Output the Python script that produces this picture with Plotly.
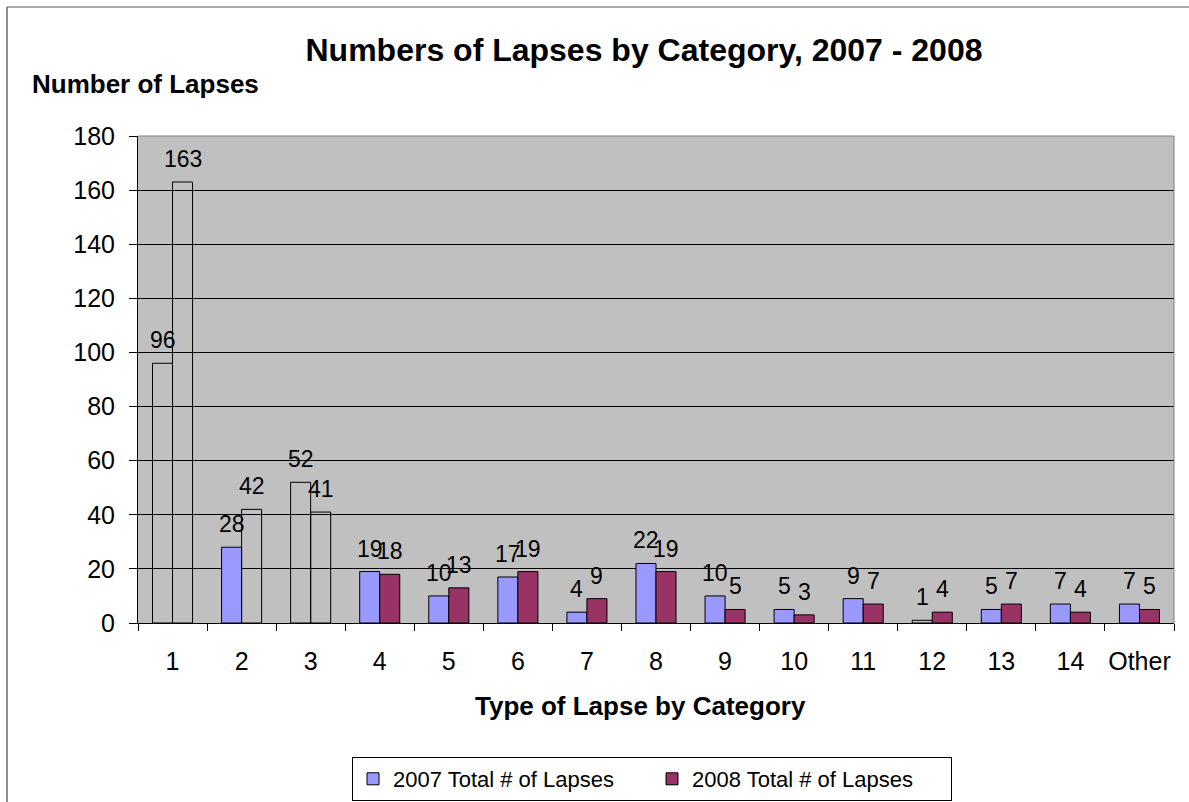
import plotly.graph_objects as go

# Lapse counts per category
categories = ["1", "2", "3", "4", "5", "6", "7", "8", "9", "10", "11", "12", "13", "14", "Other"]
lapses_2007 = [96, 28, 52, 19, 10, 17, 4, 22, 10, 5, 9, 1, 5, 7, 7]
lapses_2008 = [163, 42, 41, 18, 13, 19, 9, 19, 5, 3, 7, 4, 7, 4, 5]
# bars drawn as outline only (no fill)
hollow_2007 = [True, False, True, False, False, False, False, False, False, False, False, True, False, False, False]
hollow_2008 = [True, True, True, False, False, False, False, False, False, False, False, False, False, False, False]

name_2007 = "2007 Total # of Lapses"
name_2008 = "2008 Total # of Lapses"
color_2007 = "#9999FF"
color_2008 = "#993366"
FONT = "Liberation Sans, Arial, sans-serif"

W, H = 1189, 802
L, R, T, B = 138, 15, 136, 179
pw, ph = W - L - R, H - T - B


def px_x(p):
    return (p - L) / pw


def px_y(p):
    return (H - B - p) / ph


def fills(color, hollow):
    return ["rgba(0,0,0,0)" if h else color for h in hollow]


fig = go.Figure()
fig.add_trace(go.Bar(
    x=categories, y=lapses_2007, name=name_2007, offsetgroup="a", showlegend=False,
    marker=dict(color=fills(color_2007, hollow_2007), line=dict(color="#000000", width=1)),
    hoverinfo="x+y",
))
fig.add_trace(go.Bar(
    x=categories, y=lapses_2008, name=name_2008, offsetgroup="b", showlegend=False,
    marker=dict(color=fills(color_2008, hollow_2008), line=dict(color="#000000", width=1)),
    hoverinfo="x+y",
))
# legend entries with the solid series colours
fig.add_trace(go.Bar(x=[None], y=[None], name=name_2007, offsetgroup="a",
                     marker=dict(color=color_2007, line=dict(color="#000000", width=1))))
fig.add_trace(go.Bar(x=[None], y=[None], name=name_2008, offsetgroup="b",
                     marker=dict(color=color_2008, line=dict(color="#000000", width=1))))

bargap = 0.42
half_bar = pw / len(categories) * (1 - bargap) / 4

annotations = []
for series, shift in ((lapses_2007, -half_bar), (lapses_2008, half_bar)):
    for i, v in enumerate(series):
        # category axis: numeric x is the category index
        annotations.append(dict(
            x=i, y=v, xref="x", yref="y", text=str(v), showarrow=False,
            xanchor="center", yanchor="bottom", xshift=shift, yshift=8,
            font=dict(family=FONT, size=23, color="#000000"),
        ))

annotations.append(dict(
    x=px_x(30), y=px_y(84), xref="paper", yref="paper", text="<b>Number of Lapses</b>",
    showarrow=False, xanchor="left", yanchor="middle",
    font=dict(family=FONT, size=26, color="#000000"),
))
annotations.append(dict(
    x=px_x(640.5), y=px_y(706), xref="paper", yref="paper", text="<b>Type of Lapse by Category</b>",
    showarrow=False, xanchor="center", yanchor="middle",
    font=dict(family=FONT, size=26, color="#000000"),
))

shapes = [
    # plot area frame, top and right sides
    dict(type="line", xref="paper", yref="paper", x0=0, x1=1, y0=1, y1=1,
         line=dict(color="#808080", width=1)),
    dict(type="line", xref="paper", yref="paper", x0=1, x1=1, y0=0, y1=1,
         line=dict(color="#808080", width=1)),
    # chart frame
    dict(type="line", xref="paper", yref="paper", x0=px_x(7), x1=px_x(7), y0=px_y(7), y1=px_y(H + 5),
         line=dict(color="#222222", width=1)),
    dict(type="line", xref="paper", yref="paper", x0=px_x(7), x1=px_x(W + 5), y0=px_y(7), y1=px_y(7),
         line=dict(color="#555555", width=1)),
]

fig.update_layout(
    width=W, height=H,
    margin=dict(l=L, r=R, t=T, b=B, pad=0, autoexpand=False),
    paper_bgcolor="#FFFFFF",
    plot_bgcolor="#C0C0C0",
    barmode="group", bargap=bargap, bargroupgap=0,
    font=dict(family=FONT, color="#000000"),
    title=dict(text="<b>Numbers of Lapses by Category, 2007 - 2008</b>",
               x=px_x(644), xref="paper", xanchor="center",
               y=1 - 50 / H, yref="container", yanchor="middle",
               font=dict(family=FONT, size=32, color="#000000")),
    xaxis=dict(
        type="category", categoryorder="array", categoryarray=categories,
        showgrid=False, showline=True, linecolor="#000000", linewidth=1,
        ticks="outside", tickson="boundaries", ticklen=7, tickcolor="#000000",
        tickfont=dict(family=FONT, size=25, color="#000000"),
        tickangle=0, ticklabelstandoff=16, automargin=False,
        fixedrange=True,
    ),
    yaxis=dict(
        range=[0, 180], dtick=20, tick0=0,
        showgrid=True, gridcolor="#000000", gridwidth=1,
        showline=True, linecolor="#000000", linewidth=1,
        ticks="outside", ticklen=8, tickcolor="#000000",
        tickfont=dict(family=FONT, size=25, color="#000000"),
        ticklabelstandoff=9, automargin=False,
        zeroline=False, fixedrange=True,
    ),
    legend=dict(
        orientation="h", x=px_x(352), y=px_y(757), xanchor="left", yanchor="top",
        xref="paper", yref="paper",
        bgcolor="#FFFFFF", bordercolor="#000000", borderwidth=1,
        font=dict(family=FONT, size=22, color="#000000"),
        entrywidth=254, entrywidthmode="pixels",
        itemclick=False, itemdoubleclick=False,
    ),
    annotations=annotations,
    shapes=shapes,
)

fig.write_html("out.html")
